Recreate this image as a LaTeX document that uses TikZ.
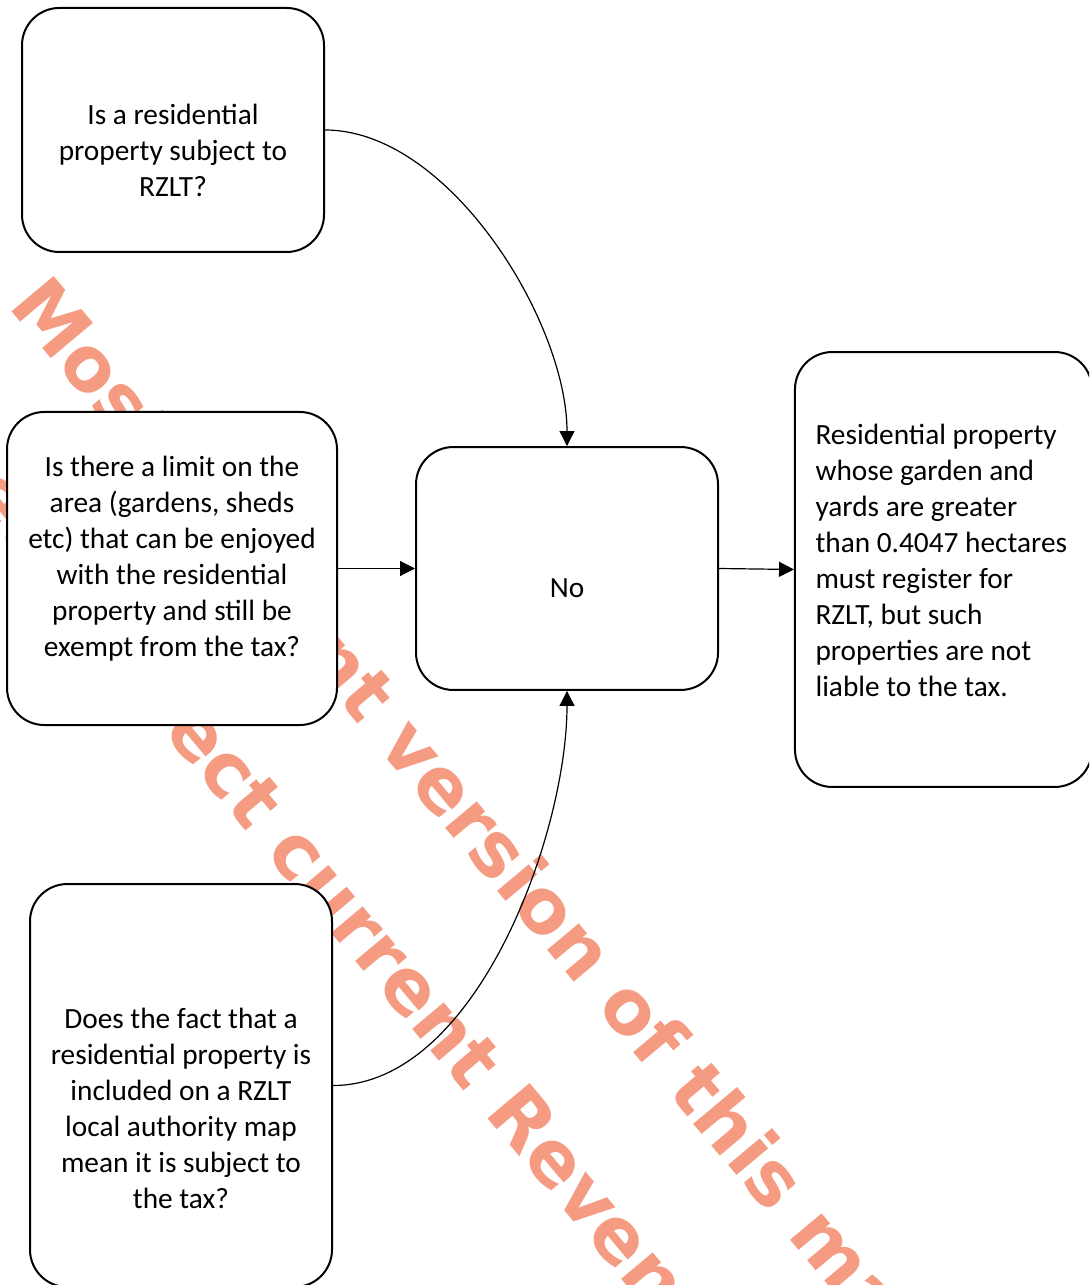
\documentclass[tikz,border=0pt]{standalone}
\usepackage{fontspec}
\setmainfont{Carlito}
\newfontfamily\wmfont{DejaVu Sans}
\usetikzlibrary{arrows.meta}
\definecolor{wmred}{RGB}{245,155,130}

\tikzset{
  qbox/.style={draw,line width=0.75pt,fill=white,rounded corners=14pt,inner sep=0pt},
  qtext/.style={align=center,inner sep=0pt,font=\fontsize{11}{13.5}\selectfont},
  wmark/.style={text=wmred,rotate=-50,inner sep=0pt,font=\wmfont\bfseries\fontsize{28.3}{34}\selectfont},
  link/.style={line width=0.45pt,-{Triangle[length=5.6pt,width=5.6pt]}}
}

\begin{document}
\begin{tikzpicture}[x=0.375pt,y=0.375pt]
\useasboundingbox (0,0) rectangle (1089,-1285);
\clip (0,0) rectangle (1089,-1285);
\fill [white] (0,0) rectangle (1089,-1285);

\node (wm1) [wmark,anchor=base west] at (7,-306) {Most current version of this manual};
\node (wm2) [wmark,anchor=base west] at (-72,-452) {See Correct current Revenue manual};

\node (a) [qbox,minimum width=113.25pt,minimum height=91.5pt] at (173,-130) {};
\node (b) [qbox,minimum width=123.75pt,minimum height=117.4pt] at (172,-568.5) {};
\node (c) [qbox,minimum width=113.25pt,minimum height=151.1pt] at (181,-1085.5) {};
\node (n) [qbox,minimum width=113.25pt,minimum height=91.1pt] at (567,-568.5) {};
\node (r) [qbox,minimum width=111.4pt,minimum height=163.1pt] at (943.5,-569.5) {};

\node (at) [qtext] at (173,-150) {Is a residential\\property subject to\\RZLT?};
\node (bt) [qtext] at (172,-559) {Is there a limit on the\\area (gardens, sheds\\etc) that can be enjoyed\\with the residential\\property and still be\\exempt from the tax?};
\node (ct) [qtext] at (181,-1108) {Does the fact that a\\residential property is\\included on a RZLT\\local authority map\\mean it is subject to\\the tax?};
\node (nt) [qtext] at (567,-588) {No};
\node (rt) [qtext,align=left,anchor=west] at (815,-560) {Residential property\\whose garden and\\yards are greater\\than 0.4047 hectares\\must register for\\RZLT, but such\\properties are not\\liable to the tax.};

\draw [link] (a.east) to[out=0,in=90,looseness=0.8] (n.north);
\draw [link] (b.east) -- (n.west);
\draw [link] (n.east) -- (r.west);
\draw [link] (c.east) to[out=0,in=-90,looseness=0.8] (n.south);
\end{tikzpicture}
\end{document}
